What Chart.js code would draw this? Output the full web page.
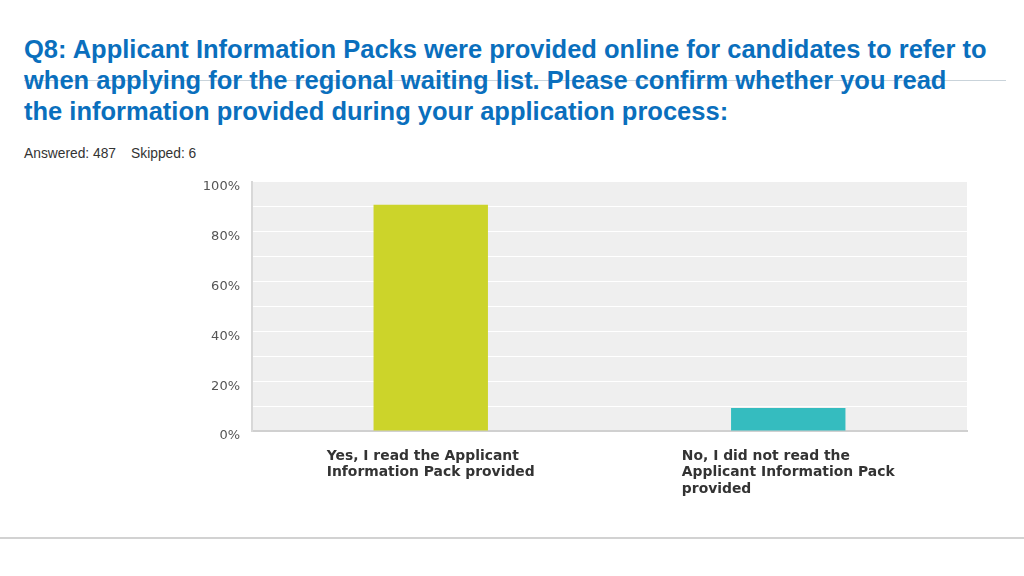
<!DOCTYPE html>
<html>
<head>
<meta charset="utf-8">
<script src="https://cdn.jsdelivr.net/npm/chart.js@4.4.0/dist/chart.umd.min.js"></script>
<style>
    body { margin: 0; width: 1024px; height: 576px; background: #fff; position: relative; overflow: hidden; font-family: "Liberation Sans", Arial, sans-serif; }
    #topRule { position: absolute; left: 24px; top: 80px; width: 982px; height: 1px; background: #c9d3da; }
    #title { position: absolute; left: 24px; top: 34px; margin: 0; font-size: 25.5px; line-height: 31px; font-weight: bold; color: #0a6fbd; white-space: nowrap; }
    #stats { position: absolute; left: 24px; top: 146px; font-size: 13.8px; color: #333; }
    #stats span + span { margin-left: 15px; }
    #chartBox { position: absolute; left: 180px; top: 162px; width: 800px; height: 340px; }
    #bottomRule { position: absolute; left: 0; top: 537px; width: 1024px; height: 2px; background: #d2d2d2; }
</style>
</head>
<body>
<div id="topRule"></div>
<h1 id="title">Q8: Applicant Information Packs were provided online for candidates to refer to<br>when applying for the regional waiting list. Please confirm whether you read<br>the information provided during your application process:</h1>
<div id="stats"><span>Answered: 487</span><span>Skipped: 6</span></div>
<div id="chartBox"><canvas id="surveyChart"></canvas></div>
<div id="bottomRule"></div>

<script>
// answer choices, one line per array entry
const answerLabels = [
    ["Yes, I read the Applicant", "Information Pack provided"],
    ["No, I did not read the", "Applicant Information Pack", "provided"]
];
const answerPercents = [90.76, 9.24];
const barColors = ["#ccd42a", "#35bcbf"];

// plot background + left-aligned category labels
const surveyPlugin = {
    id: "surveyPlugin",
    beforeDraw(chart) {
        const a = chart.chartArea;
        const ctx = chart.ctx;
        ctx.save();
        ctx.fillStyle = "#efefef";
        ctx.fillRect(a.left, a.top, a.right - a.left, a.bottom - a.top);
        ctx.restore();
    },
    afterDraw(chart) {
        const ctx = chart.ctx;
        const xScale = chart.scales.x;
        ctx.save();
        ctx.font = "bold 13.9px 'DejaVu Sans', sans-serif";
        ctx.fillStyle = "#333";
        ctx.textBaseline = "middle";
        ctx.textAlign = "left";
        answerLabels.forEach((lines, i) => {
            const cx = xScale.getPixelForValue(i);
            const w = Math.max(...lines.map(l => ctx.measureText(l).width));
            lines.forEach((line, j) => {
                ctx.fillText(line, cx - w / 2, chart.chartArea.bottom + 25 + j * 16.5);
            });
        });
        ctx.restore();
    }
};

const ctx = document.getElementById("surveyChart").getContext("2d");
new Chart(ctx, {
    type: "bar",
    data: {
        labels: answerLabels.map(l => l.join(" ")),
        datasets: [{
            data: answerPercents,
            backgroundColor: barColors,
            categoryPercentage: 1,
            barPercentage: 0.32
        }]
    },
    options: {
        responsive: true,
        maintainAspectRatio: false,
        animation: false,
        layout: { padding: { top: 3, right: 13, left: 0, bottom: 0 } },
        plugins: {
            legend: { display: false },
            tooltip: { enabled: false }
        },
        scales: {
            x: {
                grid: { display: false, drawTicks: false },
                border: { display: true, color: "#d0d0d0", width: 2 },
                ticks: { display: false },
                afterFit: scale => { scale.height = 71; }
            },
            y: {
                min: 0,
                max: 100,
                grid: { color: "#ffffff", lineWidth: 1, drawTicks: false },
                border: { display: true, color: "#d8d8d8", width: 2 },
                ticks: {
                    stepSize: 10,
                    autoSkip: false,
                    padding: 12,
                    labelOffset: 5,
                    color: "#555",
                    font: { family: "'DejaVu Sans', sans-serif", size: 13 },
                    callback: v => (v % 20 === 0 ? v + "%" : "")
                },
                afterFit: scale => { scale.width = 72; }
            }
        }
    },
    plugins: [surveyPlugin]
});
</script>
</body>
</html>
